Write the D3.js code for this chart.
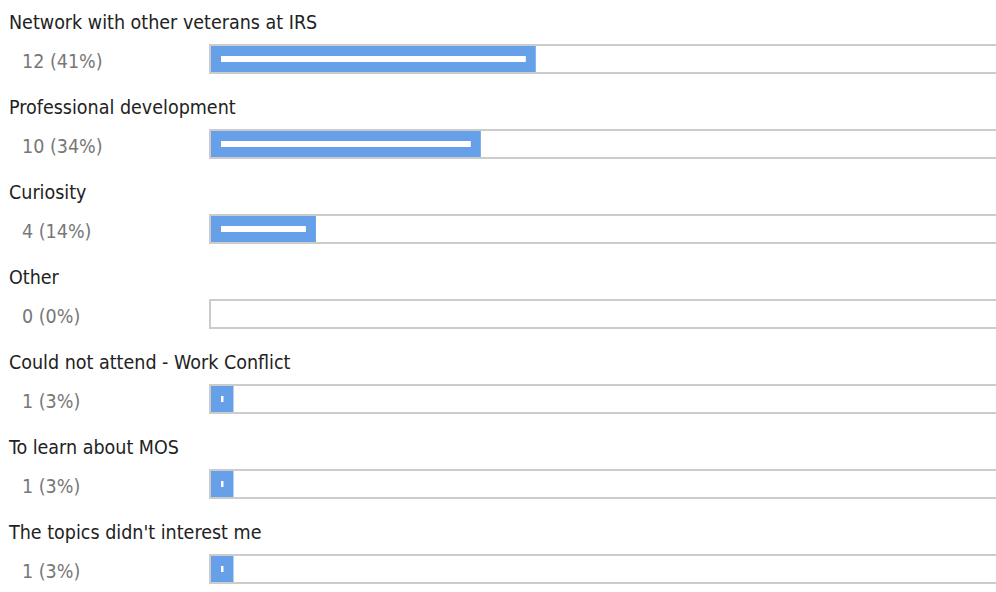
<!DOCTYPE html>
<html>
<head>
<meta charset="utf-8">
<script src="https://cdn.jsdelivr.net/npm/d3@7/dist/d3.min.js"></script>
<style>
  html, body { margin: 0; padding: 0; background: #fff; }
  svg { display: block; }
</style>
</head>
<body>
<svg id="chart" width="996" height="592"></svg>
<script>
const categories = [
  "Network with other veterans at IRS",
  "Professional development",
  "Curiosity",
  "Other",
  "Could not attend - Work Conflict",
  "To learn about MOS",
  "The topics didn't interest me"
];
const counts = [12, 10, 4, 0, 1, 1, 1];
const percentLabels = ["41%", "34%", "14%", "0%", "3%", "3%", "3%"];
const totalResponses = 29;

const svg = d3.select("#chart");
const W = 996;

const rowScale = d3.scaleBand().domain(categories).range([0, 595]).paddingInner(0);
const trackLeft = 211;
const x = d3.scaleLinear().domain([0, totalResponses]).range([-5, 792]);

const fontFamily = "'DejaVu Sans Condensed', 'DejaVu Sans', sans-serif";

const data = categories.map((c, i) => ({ cat: c, count: counts[i], pct: percentLabels[i] }));

const rows = svg.selectAll("g.row").data(data).join("g")
  .attr("class", "row")
  .attr("transform", d => `translate(0,${rowScale(d.cat)})`);

rows.append("text")
  .attr("x", 9).attr("y", 29)
  .attr("font-family", fontFamily)
  .attr("font-size", 19.5)
  .attr("fill", "#222")
  .text(d => d.cat);

rows.append("text")
  .attr("x", 22).attr("y", 68)
  .attr("font-family", fontFamily)
  .attr("font-size", 19.5)
  .attr("fill", "#777")
  .text(d => `${d.count} (${d.pct})`);

// track borders
rows.append("rect").attr("x", 209).attr("y", 44).attr("width", W - 209).attr("height", 2).attr("fill", "#cccccc");
rows.append("rect").attr("x", 209).attr("y", 72).attr("width", W - 209).attr("height", 2).attr("fill", "#cccccc");
rows.append("rect").attr("x", 209).attr("y", 44).attr("width", 2).attr("height", 30).attr("fill", "#cccccc");

const barW = d => d.count > 0 ? Math.max(0, x(d.count)) : 0;

rows.filter(d => d.count > 0).append("rect")
  .attr("x", trackLeft).attr("y", 46)
  .attr("width", barW).attr("height", 26)
  .attr("fill", "#65a0e9");

rows.filter(d => d.count > 0).append("rect")
  .attr("x", trackLeft + 10).attr("y", 56)
  .attr("width", d => Math.max(0, barW(d) - 20)).attr("height", 6)
  .attr("fill", "#ffffff");
</script>
</body>
</html>
